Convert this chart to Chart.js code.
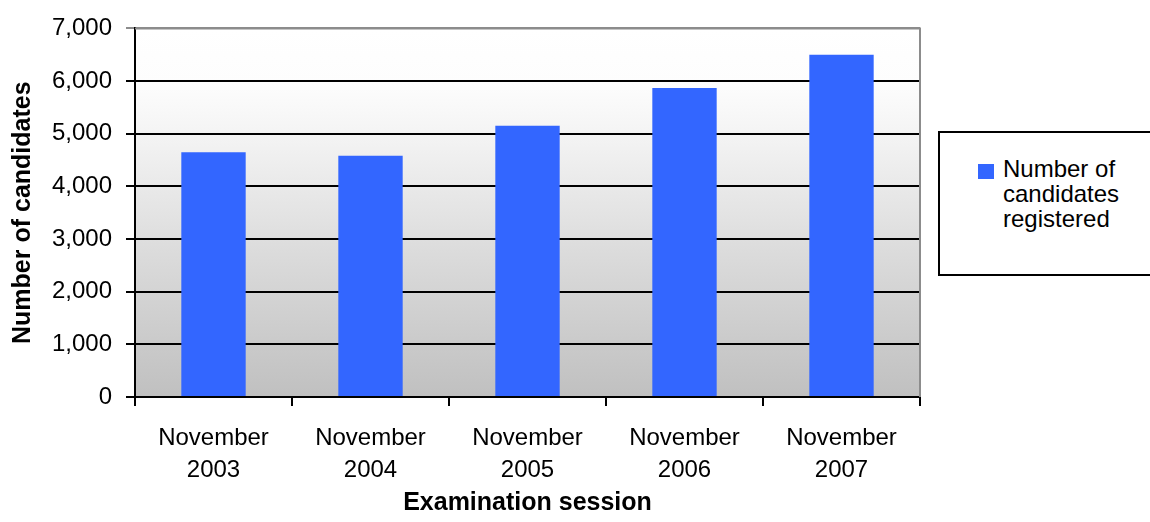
<!DOCTYPE html>
<html>
<head>
<meta charset="utf-8">
<script src="https://cdn.jsdelivr.net/npm/chart.js@4/dist/chart.umd.min.js"></script>
<style>
    body { margin: 0; background: #fff; overflow: hidden; }
    #wrap { position: relative; width: 1150px; height: 522px; overflow: hidden; }
    #legend {
        position: absolute; left: 938px; top: 131px; width: 250px; height: 145px;
        border: 2px solid #000; box-sizing: border-box; background: #fff;
        font-family: "Liberation Sans", Arial, sans-serif; font-size: 24px; color: #000;
    }
    #legend .box { position: absolute; left: 38px; top: 31px; width: 16px; height: 15px; background: #3366ff; }
    #legend .txt { position: absolute; left: 63px; top: 23px; line-height: 25px; }
</style>
</head>
<body>
<div id="wrap">
    <canvas id="chart"></canvas>
    <div id="legend"><div class="box"></div><div class="txt">Number of<br>candidates<br>registered</div></div>
</div>
<script>
const sessions = [['November', '2003'], ['November', '2004'], ['November', '2005'], ['November', '2006'], ['November', '2007']];
const candidates = [4650, 4580, 5150, 5870, 6500];
const yTicks = [0, 1000, 2000, 3000, 4000, 5000, 6000, 7000];

const family = '"Liberation Sans", Arial, sans-serif';
const tickFont = { family: family, size: 24, lineHeight: 1.35 };
const titleFont = { family: family, size: 25, weight: 'bold' };

const plotBackground = {
    id: 'plotBackground',
    beforeDraw(chart) {
        const a = chart.chartArea;
        const c = chart.ctx;
        const g = c.createLinearGradient(0, a.top, 0, a.bottom);
        g.addColorStop(0, '#ffffff');
        g.addColorStop(0.15, '#fdfdfd');
        g.addColorStop(0.3, '#f3f3f3');
        g.addColorStop(0.6, '#dcdcdc');
        g.addColorStop(1, '#c0c0c0');
        c.save();
        c.fillStyle = g;
        c.fillRect(a.left, a.top, a.right - a.left, a.bottom - a.top);
        c.restore();
    },
    afterDraw(chart) {
        const a = chart.chartArea;
        const c = chart.ctx;
        c.save();
        c.strokeStyle = '#8c8c8c';
        c.lineWidth = 2;
        c.beginPath();
        c.moveTo(a.left, a.top);
        c.lineTo(a.right, a.top);
        c.lineTo(a.right, a.bottom);
        c.stroke();
        c.restore();
    }
};

new Chart(document.getElementById('chart'), {
    type: 'bar',
    data: {
        labels: sessions,
        datasets: [{
            label: 'Number of candidates registered',
            data: candidates,
            backgroundColor: '#3366ff',
            barPercentage: 0.41,
            categoryPercentage: 1
        }]
    },
    options: {
        responsive: true,
        maintainAspectRatio: false,
        animation: false,
        layout: { padding: { top: 22, left: 0, right: 230, bottom: 0 } },
        plugins: { legend: { display: false }, tooltip: { enabled: false } },
        scales: {
            x: {
                afterFit: s => { s.height = 125; },
                grid: { offset: true, drawOnChartArea: false, color: '#000', lineWidth: 2, tickLength: 9 },
                border: { color: '#000', width: 2 },
                ticks: { color: '#000', font: tickFont, padding: 16, maxRotation: 0 },
                title: { display: true, text: 'Examination session', color: '#000',
                         font: titleFont, padding: { top: 0, bottom: 4 } }
            },
            y: {
                min: 0,
                max: 7000,
                afterBuildTicks: axis => { axis.ticks = yTicks.map(v => ({ value: v })); },
                afterFit: s => { s.width = 135; },
                grid: {
                    color: ctx => ctx.tick && ctx.tick.value === 7000 ? '#8c8c8c' : '#000',
                    lineWidth: 2,
                    tickLength: 9
                },
                border: { color: '#000', width: 2 },
                ticks: { color: '#000', font: { family: family, size: 24 }, padding: 14,
                         callback: v => v.toLocaleString('en-US') },
                title: { display: true, text: 'Number of candidates', color: '#000',
                         font: titleFont, padding: { top: 8, bottom: 8 } }
            }
        }
    },
    plugins: [plotBackground]
});
</script>
</body>
</html>
